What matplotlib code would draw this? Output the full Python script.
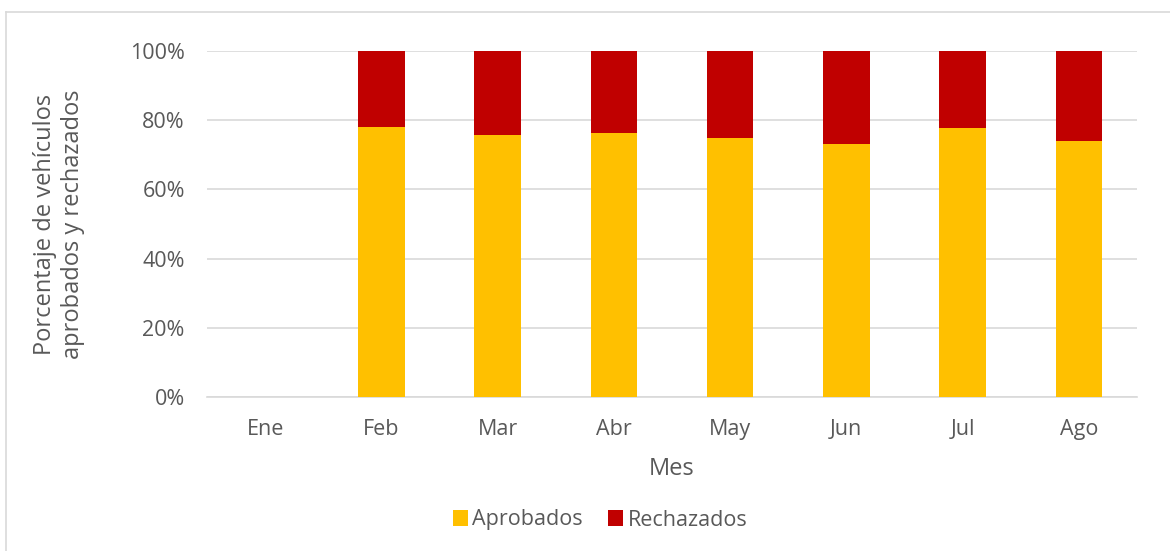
import matplotlib.pyplot as plt
from matplotlib.lines import Line2D
import numpy as np

# datos (porcentajes)
meses = ["Ene", "Feb", "Mar", "Abr", "May", "Jun", "Jul", "Ago"]
aprobados = [0, 78.1, 75.7, 76.3, 74.9, 73.1, 77.7, 74.0]
rechazados = [0, 21.9, 24.3, 23.7, 25.1, 26.9, 22.3, 26.0]

plt.rcParams['font.family'] = ['Open Sans', 'DejaVu Sans']
gris = "#595959"

fig = plt.figure(figsize=(11.7, 5.51), dpi=100)
ax = fig.add_axes([207 / 1170, 1 - 397 / 551, 930 / 1170, 346 / 551])

x = np.arange(len(meses))
ax.bar(x, aprobados, width=0.4, color="#ffc000", label="Aprobados", zorder=3)
ax.bar(x, rechazados, width=0.4, bottom=aprobados, color="#c00000",
       label="Rechazados", zorder=3)

ax.set_xlim(-0.5, len(meses) - 0.5)
ax.set_ylim(0, 100)
ax.set_yticks(range(0, 101, 20))
ax.set_yticklabels([f"{v}%" for v in range(0, 101, 20)])
ax.set_xticks(x)
ax.set_xticklabels(meses)
ax.tick_params(axis="both", length=0, labelsize=15.5, colors=gris)
ax.tick_params(axis="x", pad=16)
ax.tick_params(axis="y", pad=16)

ax.grid(axis="y", color="#d9d9d9", linewidth=1.2, zorder=0)
for s in ["top", "right", "left"]:
    ax.spines[s].set_visible(False)
ax.spines["bottom"].set_color("#d9d9d9")
ax.spines["bottom"].set_linewidth(1.2)

ax.set_xlabel("Mes", fontsize=17, color=gris, labelpad=12)
ax.set_ylabel("Porcentaje de vehículos\naprobados y rechazados", fontsize=17,
              color=gris, labelpad=32, linespacing=1.25)

fig.legend(loc="center", bbox_to_anchor=(600 / 1170, 1 - 520 / 551), ncol=2,
           frameon=False, fontsize=15.5, handlelength=0.7, handleheight=0.7,
           handletextpad=0.2, columnspacing=1.2, labelcolor=gris)

# borde del area del grafico
fig.add_artist(Line2D([6 / 1170, 1], [1 - 12 / 551, 1 - 12 / 551],
                      transform=fig.transFigure, color="#d9d9d9", lw=1.2))
fig.add_artist(Line2D([6 / 1170, 6 / 1170], [0, 1 - 12 / 551],
                      transform=fig.transFigure, color="#d9d9d9", lw=1.2))

fig.savefig("out.png", dpi=100)
